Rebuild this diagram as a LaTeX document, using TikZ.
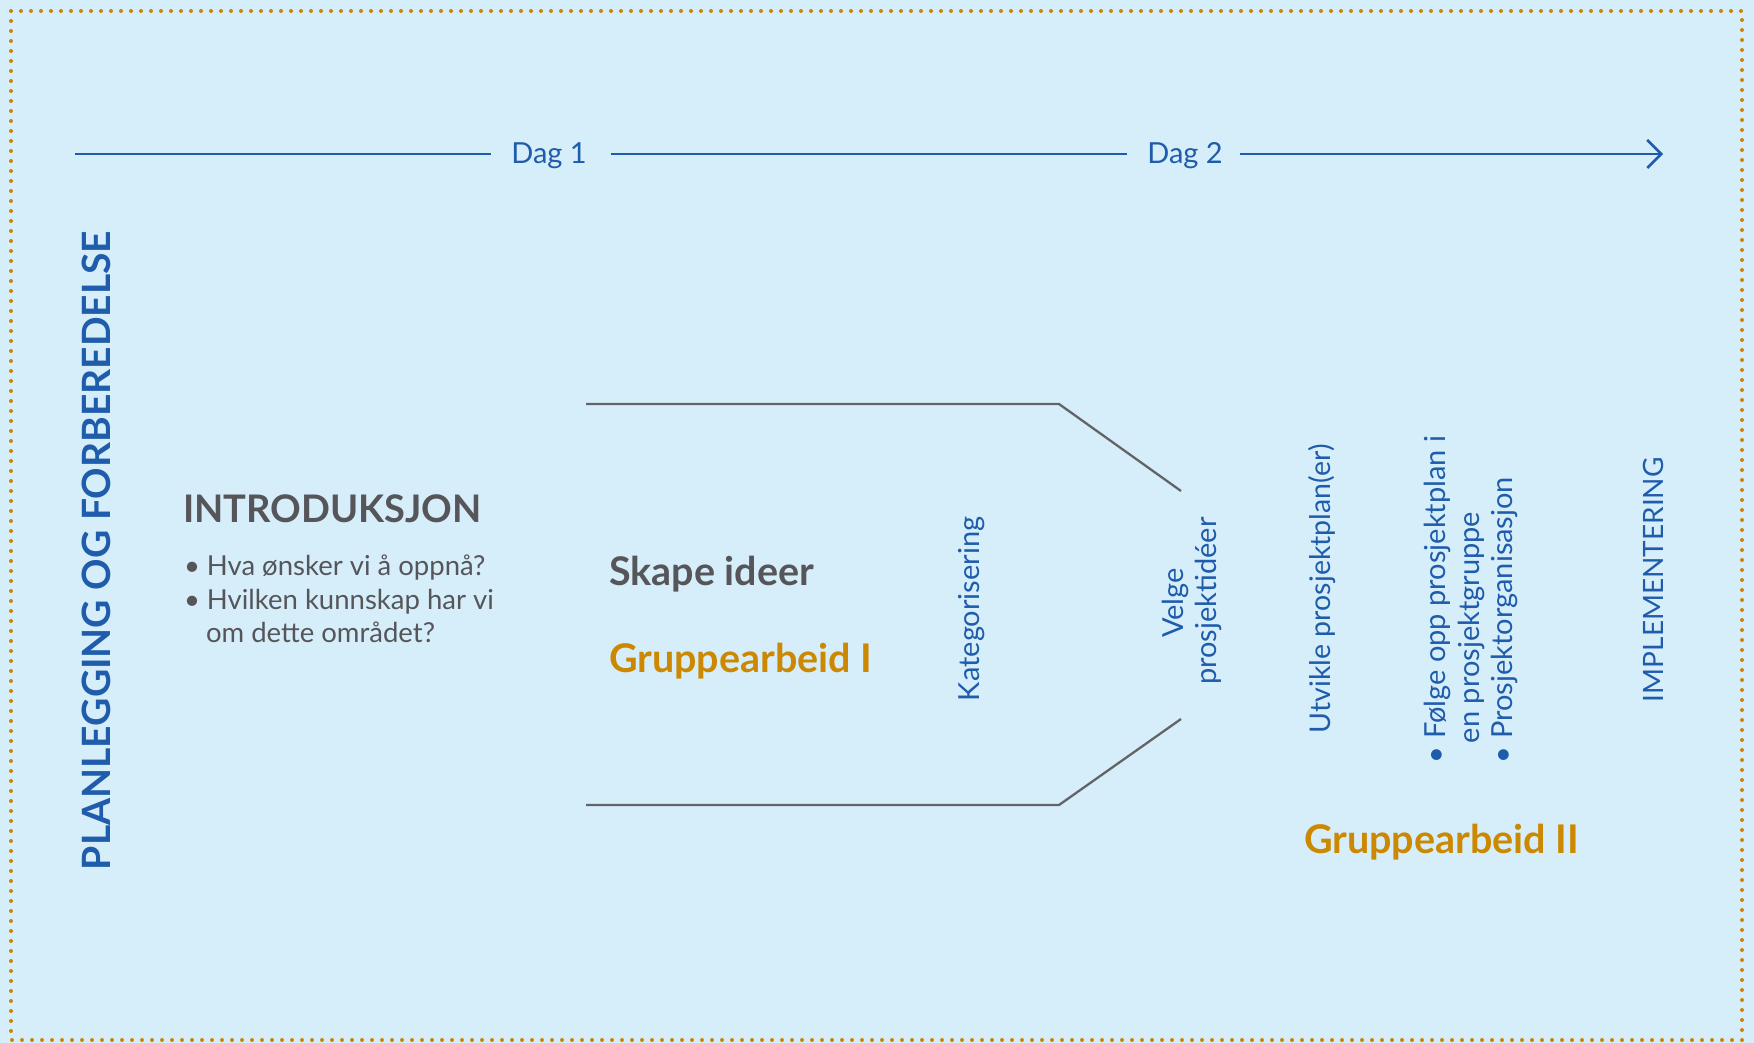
\documentclass[tikz,border=0pt]{standalone}
\usepackage{fontspec}
\setmainfont{Lato}
\usetikzlibrary{arrows.meta}
\definecolor{bgblue}{RGB}{214,238,250}
\definecolor{txtblue}{RGB}{32,92,172}
\definecolor{txtgray}{RGB}{85,85,90}
\definecolor{txtorange}{RGB}{204,136,0}
\definecolor{bordcol}{RGB}{204,132,10}
\definecolor{linegray}{RGB}{100,100,104}
\begin{document}
\begin{tikzpicture}[x=1pt,y=-1pt,
  every node/.style={inner sep=0pt, outer sep=0pt},
  timeline/.style={draw=txtblue, line width=2.5pt},
  daylabel/.style={text=txtblue, font=\fontsize{29}{34}\selectfont, anchor=base},
  vlabel/.style={text=txtblue, font=\fontsize{29}{34}\selectfont, rotate=90, anchor=base west},
  vtitle/.style={text=txtblue, font=\bfseries\fontsize{39}{44}\selectfont, rotate=90, anchor=base west},
  headgray/.style={text=txtgray, font=\bfseries\fontsize{38}{44}\selectfont, anchor=base west},
  bodygray/.style={text=txtgray, font=\fontsize{27.5}{32}\selectfont, anchor=base west},
  subgray/.style={text=txtgray, font=\bfseries\fontsize{39.5}{44}\selectfont, anchor=base west},
  grouplabel/.style={text=txtorange, font=\bfseries\fontsize{39.5}{44}\selectfont, anchor=base west},
  funnel/.style={draw=linegray, line width=2.3pt},
  dotborder/.style={draw=bordcol, line width=4pt, line cap=round, dash pattern=on 0pt off 10pt}
]
\useasboundingbox (0,0) rectangle (1754,1043);
\fill[bgblue] (0,0) rectangle (1754,1043);
\draw[dotborder] (11,11) rectangle (1742,1040);

% timeline
\coordinate (t0) at (75,154);
\coordinate (t1) at (1663,154);
\node[daylabel] (d1) at (549,164) {Dag 1};
\node[daylabel] (d2) at (1185,164) {Dag 2};
\draw[timeline] (t0) -- ([xshift=-20pt]t0 -| d1.west);
\draw[timeline] ([xshift=24pt]t0 -| d1.east) -- ([xshift=-20pt]t0 -| d2.west);
\draw[timeline, -{Straight Barb[length=14pt,width=28pt,line width=2.5pt]}] ([xshift=17pt]t0 -| d2.east) -- (t1);

% left title
\node[vtitle] (plan) at (110,870) {PLANLEGGING OG FORBEREDELSE};

% introduksjon
\node[headgray] (intro) at (183,522) {INTRODUKSJON};
\node[bodygray] (b1) at (184,575) {•\ Hva ønsker vi å oppnå?};
\node[bodygray] (b2) at (184,609) {•\ Hvilken kunnskap har vi};
\node[bodygray] (b3) at (206,642) {om dette området?};

% funnel
\coordinate (f1) at (586,404);
\coordinate (f2) at (1059,404);
\coordinate (f3) at (1181,491);
\coordinate (g1) at (586,805);
\coordinate (g2) at (1059,805);
\coordinate (g3) at (1181,719);
\draw[funnel] (f1) -- (f2) -- (f3);
\draw[funnel] (g1) -- (g2) -- (g3);

\node[subgray] (skape) at (609,585) {Skape ideer};
\node[grouplabel] (grp1) at (609,672) {Gruppearbeid I};

% vertical steps
\node[vlabel] (kat) at (979,701) {Kategorisering};
\node[vlabel, anchor=base] (velge) at (1183,603) {Velge};
\node[vlabel, anchor=base] (prosj) at (1216,601) {prosjektidéer};
\node[vlabel, font=\fontsize{28.5}{34}\selectfont] (utv) at (1330,733) {Utvikle prosjektplan(er)};
\node[vlabel] (fl1) at (1445,763) {•\ Følge opp prosjektplan i};
\node[vlabel] (fl2) at (1479,743) {en prosjektgruppe};
\node[vlabel] (fl3) at (1512,763) {•\ Prosjektorganisasjon};
\node[vlabel, font=\fontsize{28}{34}\selectfont] (impl) at (1663,702) {IMPLEMENTERING};

\node[grouplabel] (grp2) at (1304,853) {Gruppearbeid II};
\end{tikzpicture}
\end{document}
